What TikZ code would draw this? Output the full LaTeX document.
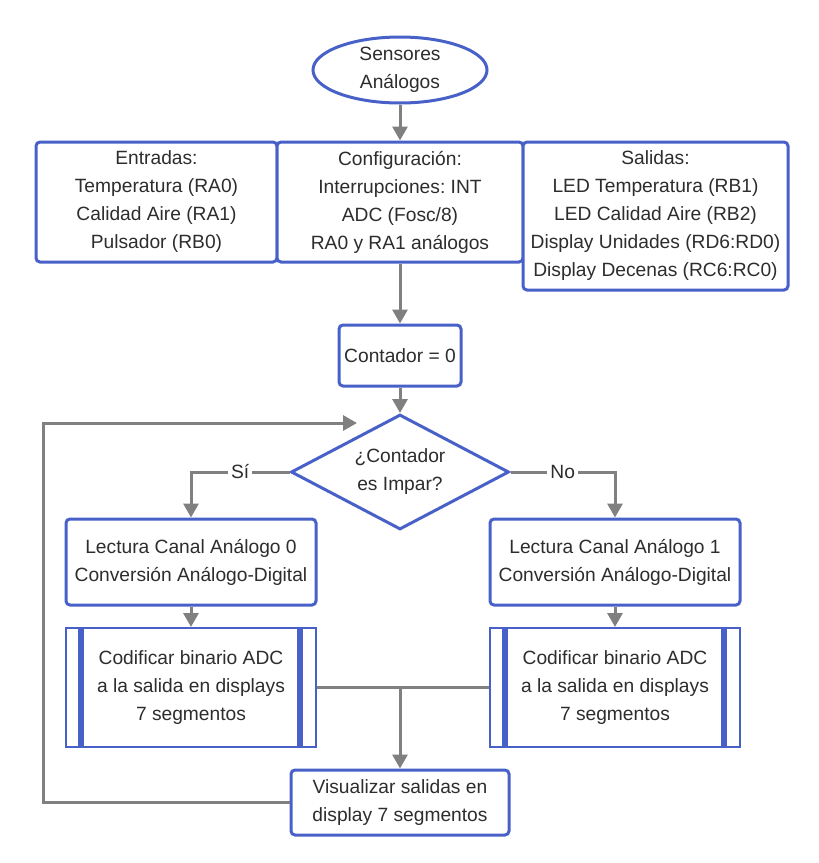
\documentclass[tikz,border=0pt]{standalone}
\usepackage{fontspec}
\setmainfont{Liberation Sans}
\frenchspacing
\usetikzlibrary{shapes.geometric, arrows.meta, positioning, calc}
\definecolor{flowblue}{RGB}{72,97,200}
\definecolor{flowgray}{RGB}{128,128,128}
\definecolor{flowtext}{RGB}{45,45,45}

\begin{document}
\begin{tikzpicture}[
  x=0.5pt, y=-0.5pt,
  % Define styles
  base/.style={draw=flowblue, text=flowtext, align=center, font=\fontsize{9.6}{14}\selectfont, inner sep=0pt, fill=white},
  process/.style={base, rectangle, rounded corners=2pt, line width=1.5pt},
  terminal/.style={base, ellipse, line width=1.5pt, minimum width=87pt, minimum height=33pt},
  decision/.style={base, diamond, shape aspect=2, line width=1.5pt, minimum width=109pt, minimum height=57.5pt},
  predef/.style={base, rectangle, line width=1pt, minimum width=125pt, minimum height=59.5pt},
  predefbar/.style={draw=flowblue, line width=3pt},
  connector/.style={draw=flowgray, line width=1.5pt, -{Triangle[width=7.5pt,length=7pt]}},
  joinline/.style={draw=flowgray, line width=1.5pt},
  branch/.style={font=\fontsize{9.6}{14}\selectfont, text=flowtext, fill=white, inner sep=1.5pt}
]
  \useasboundingbox (0,0) rectangle (819,863);

  % Start
  \node[terminal] (start) at (400,70) {Sensores\\Análogos};

  % Top row
  \node[process, minimum width=120.5pt, minimum height=60pt] (inputs) at (156.5,202) {Entradas:\\Temperatura (RA0)\\Calidad Aire (RA1)\\Pulsador (RB0)};
  \node[process, minimum width=123pt, minimum height=60pt] (config) at (400,202) {Configuración:\\Interrupciones: INT\\ADC (Fosc/8)\\RA0 y RA1 análogos};
  \node[process, minimum width=132.5pt, minimum height=74pt] (outputs) at (655.5,216) {Salidas:\\LED Temperatura (RB1)\\LED Calidad Aire (RB2)\\Display Unidades (RD6:RD0)\\Display Decenas (RC6:RC0)};

  % Counter and decision
  \node[process, minimum width=61pt, minimum height=30.5pt] (counter) at (400,355.5) {Contador = 0};
  \node[decision] (odd) at (400,472) {¿Contador\\es Impar?};

  % Branches
  \node[process, minimum width=125pt, minimum height=43pt] (read0) at (191,562) {Lectura Canal Análogo 0\\Conversión Análogo-Digital};
  \node[process, minimum width=125pt, minimum height=43pt] (read1) at (615,562) {Lectura Canal Análogo 1\\Conversión Análogo-Digital};
  \node[predef] (code0) at (191,687.5) {Codificar binario ADC\\a la salida en displays\\7 segmentos};
  \node[predef] (code1) at (615,687.5) {Codificar binario ADC\\a la salida en displays\\7 segmentos};
  \draw[predefbar] ([xshift=8pt]code0.north west) -- ([xshift=8pt]code0.south west);
  \draw[predefbar] ([xshift=-8.5pt]code0.north east) -- ([xshift=-8.5pt]code0.south east);
  \draw[predefbar] ([xshift=8pt]code1.north west) -- ([xshift=8pt]code1.south west);
  \draw[predefbar] ([xshift=-8.5pt]code1.north east) -- ([xshift=-8.5pt]code1.south east);

  % Display
  \node[process, minimum width=109pt, minimum height=32.5pt] (show) at (400,802.5) {Visualizar salidas en\\display 7 segmentos};

  % Helper coordinates
  \coordinate (merge) at (show.north |- code0.east);
  \coordinate (loopleft) at (43,423);
  \coordinate (loopin) at (357,423);

  % Connections
  \draw[connector] (start) -- (config);
  \draw[connector] (config) -- (counter);
  \draw[connector] (counter) -- (odd);
  \draw[connector] (odd.west) -| node[branch, pos=0.25] {Sí} (read0.north);
  \draw[connector] (odd.east) -| node[branch, pos=0.25] {No} (read1.north);
  \draw[connector] (read0) -- (code0);
  \draw[connector] (read1) -- (code1);
  \draw[joinline] (code0.east) -- (merge);
  \draw[joinline] (code1.west) -- (merge);
  \draw[connector] (merge) -- (show.north);
  \draw[connector] (show.west) -| (loopleft) -- (loopin);

\end{tikzpicture}
\end{document}
